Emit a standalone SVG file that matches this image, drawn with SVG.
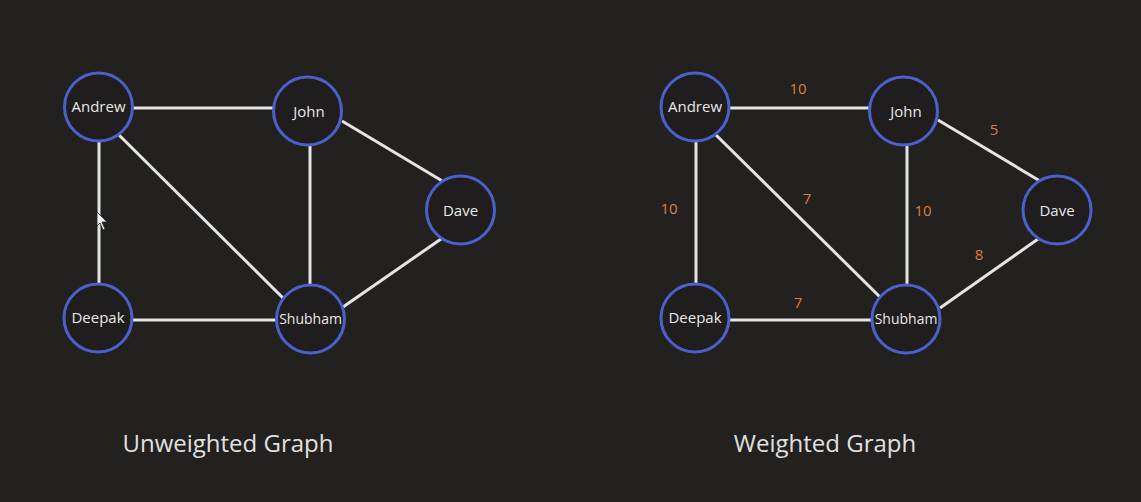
<svg xmlns="http://www.w3.org/2000/svg" width="1141" height="502" viewBox="0 0 1141 502">
<style>
.bg{fill:#222120}
.node circle{fill:#1f1d1d;stroke:#4a61cc;stroke-width:3}
.node text{fill:#e8e8e8;font-family:"Open Sans","Noto Sans",sans-serif;font-size:15px;text-anchor:middle}
.edges line{stroke:#e4e4e4;stroke-width:3;stroke-linecap:butt}
.w{fill:#e07b39;font-family:"Open Sans","Noto Sans",sans-serif;font-size:15px;text-anchor:middle}
.title{fill:#e0e0e0;font-family:"Open Sans","Noto Sans",sans-serif;font-size:24px;text-anchor:middle}
</style>
<rect class="bg" x="0" y="0" width="1141" height="502"/>
<g id="edges-left" class="edges">
<line x1="133" y1="108" x2="273" y2="108"/>
<line x1="99" y1="141" x2="99" y2="283"/>
<line x1="119" y1="135" x2="283" y2="298"/>
<line x1="310" y1="144" x2="310" y2="284"/>
<line x1="342" y1="121" x2="444" y2="182"/>
<line x1="441" y1="239" x2="343" y2="307"/>
<line x1="133" y1="320" x2="276" y2="320"/>
</g>
<g id="edges-right" class="edges">
<line x1="729" y1="108" x2="869" y2="108"/>
<line x1="696" y1="141" x2="696" y2="283"/>
<line x1="716" y1="135" x2="881" y2="298"/>
<line x1="907" y1="144" x2="907" y2="284"/>
<line x1="938" y1="120" x2="1040" y2="181"/>
<line x1="1038" y1="239" x2="940" y2="308"/>
<line x1="729" y1="320" x2="872" y2="320"/>
</g>
<g id="L-Andrew" class="node"><circle cx="98.5" cy="107" r="34"/><text x="98.5" y="112">Andrew</text></g>
<g id="L-John" class="node"><circle cx="307.5" cy="111" r="34"/><text x="309" y="117">John</text></g>
<g id="L-Dave" class="node"><circle cx="460.5" cy="210" r="34"/><text x="460.5" y="216">Dave</text></g>
<g id="L-Deepak" class="node"><circle cx="98" cy="318" r="34"/><text x="98" y="323">Deepak</text></g>
<g id="L-Shubham" class="node"><circle cx="310.5" cy="319" r="34"/><text x="310.5" y="324" style="font-size:14px">Shubham</text></g>
<g id="R-Andrew" class="node"><circle cx="695" cy="107" r="34"/><text x="695" y="112">Andrew</text></g>
<g id="R-John" class="node"><circle cx="903.5" cy="111" r="34"/><text x="906" y="117">John</text></g>
<g id="R-Dave" class="node"><circle cx="1057" cy="210" r="34"/><text x="1057" y="216">Dave</text></g>
<g id="R-Deepak" class="node"><circle cx="695" cy="318" r="34"/><text x="695" y="323">Deepak</text></g>
<g id="R-Shubham" class="node"><circle cx="906" cy="319" r="34"/><text x="906" y="324" style="font-size:14px">Shubham</text></g>
<g id="weights">
<text class="w" x="798" y="94">10</text>
<text class="w" x="994" y="135">5</text>
<text class="w" x="669" y="214">10</text>
<text class="w" x="807" y="204">7</text>
<text class="w" x="923" y="216">10</text>
<text class="w" x="979" y="260">8</text>
<text class="w" x="798" y="308">7</text>
</g>
<text class="title" x="228" y="452">Unweighted Graph</text>
<text class="title" x="825" y="452">Weighted Graph</text>
<polygon points="97,212 97,226 100,223 103,230 105,229 102,222 107,222" fill="#f0f0f0" stroke="#222" stroke-width="0.8"/>
</svg>
